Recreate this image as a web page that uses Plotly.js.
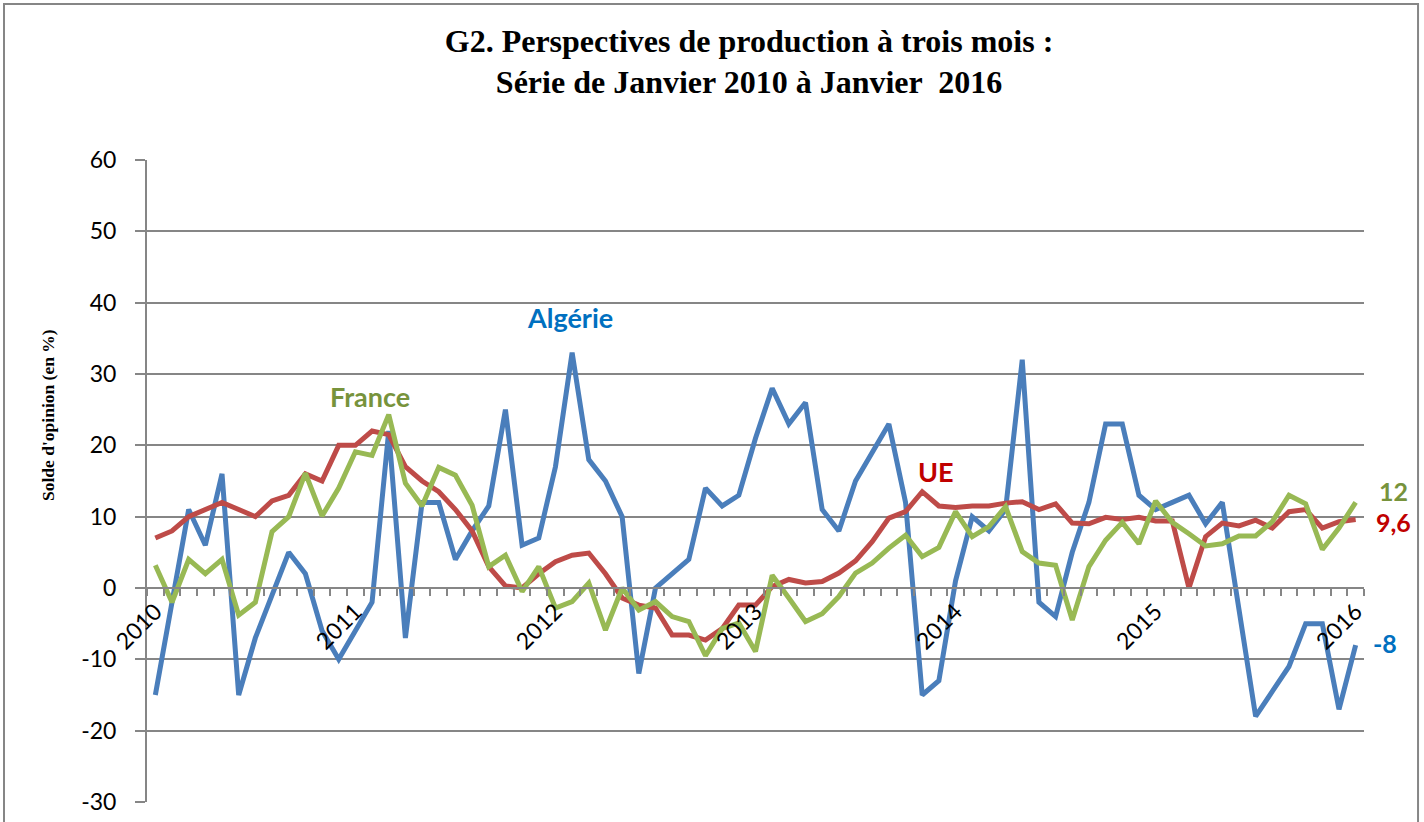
<!DOCTYPE html>
<html>
<head>
<meta charset="utf-8">
<script src="https://cdn.plot.ly/plotly-3.0.1.min.js"></script>
<style>html,body{margin:0;padding:0;background:#fff;}#chart{width:1424px;height:822px;}</style>
</head>
<body>
<div id="chart"></div>
<script>
// Monthly series, January 2010 to January 2016 (73 months)
var years = ["2010","2011","2012","2013","2014","2015","2016"];
var yTickVals = [-30,-20,-10,0,10,20,30,40,50,60];
var yTickLabels = ["-30","-20","-10","0","10","20","30","40","50","60"];

var algerie = [-15,-2,11,6,16,-15,-7,-1,5,2,-6,-10,
  -6,-2,22,-7,12,12,4,8,11.5,25,6,7,
  17,33,18,15,10,-12,0,2,4,14,11.5,13,
  21,28,23,26,11,8,15,19,23,12,-15,-13,
  1,10,8,11,32,-2,-4,5,12,23,23,13,
  11,12,13,9,12,-3,-18,-14.5,-11,-5,-5,-17,
  -8];

var ue = [7,8,10,11,12,11,10,12.2,13,16,15,20,
  20,22,21.5,17,15,13.5,11,8,3,0.3,0,2,
  3.7,4.6,4.9,2,-1.4,-2.4,-2.8,-6.6,-6.6,-7.3,-5.7,-2.4,
  -2.4,0.2,1.2,0.7,0.9,2.1,3.8,6.5,9.8,10.7,13.5,11.5,
  11.3,11.5,11.5,11.9,12.1,11,11.8,9.1,9,9.9,9.6,9.9,
  9.4,9.4,0,7.2,9.1,8.7,9.5,8.4,10.7,11,8.4,9.3,
  9.6];

var france = [3.2,-2,4,2,4,-3.8,-2,7.9,10,16.1,10.1,14,
  19.1,18.6,24.3,14.7,11.5,16.9,15.8,11.6,3,4.6,-0.5,3,
  -2.8,-1.9,0.7,-5.9,0,-3.1,-1.9,-4,-4.7,-9.5,-5.7,-4.9,
  -8.9,1.8,-1.4,-4.7,-3.6,-1.2,2.1,3.5,5.6,7.4,4.4,5.7,
  10.7,7.2,8.6,11.4,5.1,3.5,3.2,-4.5,3,6.7,9.2,6.2,
  12.2,9.2,7.6,5.9,6.2,7.3,7.3,9.3,13,11.8,5.4,8.4,
  12];

var idx = algerie.map(function(_, i){ return i; });
var yearIdx = years.map(function(_, k){ return k * 12; });
var n = algerie.length;

var traces = [
  {x: idx, y: algerie, name: "Algérie", mode: "lines", line: {color: "#4A7EBB", width: 5}},
  {x: idx, y: ue, name: "UE", mode: "lines", line: {color: "#BE4B48", width: 5}},
  {x: idx, y: france, name: "France", mode: "lines", line: {color: "#98B954", width: 5}}
];

var lblFont = function(c, s){ return {family: "Lato, 'Open Sans', sans-serif", size: s || 27, color: c}; };
var tickFont = {family: "Lato, 'Open Sans', sans-serif", size: 23, color: "#000"};

var layout = {
  width: 1424, height: 822,
  margin: {l: 147, r: 60, t: 160, b: 20},
  paper_bgcolor: "#fff", plot_bgcolor: "#fff",
  showlegend: false,
  title: {
    text: "<b>G2. Perspectives de production à trois mois :<br>Série de Janvier 2010 à Janvier  2016</b>",
    font: {family: "'Liberation Serif', 'Times New Roman', serif", size: 32, color: "#000"},
    xref: "container", x: 0.526, xanchor: "center",
    yref: "container", y: 0.937, yanchor: "top"
  },
  xaxis: {
    range: [-0.5, n - 0.5],
    tickmode: "array", tickvals: yearIdx, ticktext: years,
    tickangle: -45, ticks: "",
    tickfont: tickFont,
    showgrid: false, zeroline: false,
    showline: true, linecolor: "#868686", linewidth: 2,
    anchor: "free", position: 1/3,
    minor: {tickmode: "linear", tick0: 0.5, dtick: 1, ticks: "outside", ticklen: 7, tickwidth: 2, tickcolor: "#868686", showgrid: false}
  },
  yaxis: {
    range: [-30, 60],
    tickmode: "array", tickvals: yTickVals, ticktext: yTickLabels,
    showgrid: true, gridcolor: "#868686", gridwidth: 2,
    zeroline: false,
    showline: true, linecolor: "#868686", linewidth: 2,
    ticks: "outside", ticklen: 10, tickwidth: 2, tickcolor: "#868686", ticklabelstandoff: 14,
    tickfont: tickFont
  },
  shapes: [
    {type: "rect", xref: "paper", yref: "paper", x0: -0.1175, x1: 1.0444, y0: -0.05, y1: 1.243,
     line: {color: "#868686", width: 2}, fillcolor: "rgba(0,0,0,0)", layer: "below"}
  ],
  annotations: [
    {xref: "paper", yref: "paper", x: (48 - 147) / 1217, y: (802 - 415) / 642, text: "<b>Solde d'opinion (en %)</b>",
     textangle: -90, showarrow: false, xanchor: "center", yanchor: "middle",
     font: {family: "'Liberation Serif', 'Times New Roman', serif", size: 17.5, color: "#000"}},
    {x: 24.9, y: 37.9, text: "<b>Algérie</b>", showarrow: false, xanchor: "center", font: lblFont("#0070C0")},
    {x: 12.9, y: 26.8, text: "<b>France</b>", showarrow: false, xanchor: "center", font: lblFont("#77933C")},
    {x: 46.8, y: 16.3, text: "<b>UE</b>", showarrow: false, xanchor: "center", font: lblFont("#C00000")},
    {xref: "paper", x: (1394 - 147) / 1217, y: 13.6, text: "<b>12</b>", showarrow: false, xanchor: "center", yanchor: "middle", font: lblFont("#77933C", 25)},
    {xref: "paper", x: (1394 - 147) / 1217, y: 9.2, text: "<b>9,6</b>", showarrow: false, xanchor: "center", yanchor: "middle", font: lblFont("#C00000", 25)},
    {xref: "paper", x: (1385 - 147) / 1217, y: -7.7, text: "<b>-8</b>", showarrow: false, xanchor: "center", yanchor: "middle", font: lblFont("#0070C0", 25)}
  ]
};

Plotly.newPlot("chart", traces, layout, {displayModeBar: false, staticPlot: true});
</script>
</body>
</html>
